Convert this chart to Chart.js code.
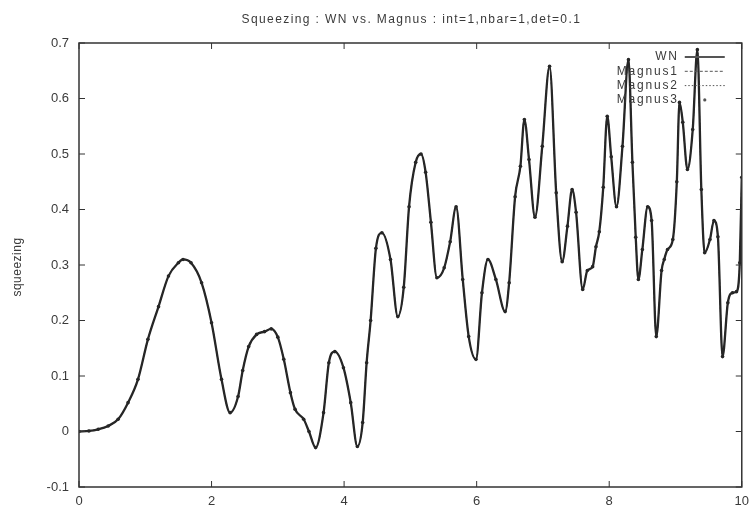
<!DOCTYPE html>
<html>
<head>
<meta charset="utf-8">
<script src="https://cdn.jsdelivr.net/npm/chart.js@4.4.1/dist/chart.umd.min.js"></script>
<style>
  html, body { margin: 0; padding: 0; background: #fff; }
  canvas { display: block; }
</style>
</head>
<body>
<canvas id="squeezeChart" width="756" height="520"></canvas>
<script>
// time axis and squeezing values
const tValues = [
    0.00, 0.15, 0.29, 0.44, 0.59, 0.74, 0.89, 1.04, 1.20, 1.35,
    1.50, 1.57, 1.69, 1.85, 2.00, 2.15, 2.28, 2.40, 2.47, 2.56,
    2.68, 2.80, 2.90, 3.00, 3.09, 3.19, 3.26, 3.39, 3.47, 3.57,
    3.69, 3.77, 3.86, 3.99, 4.10, 4.20, 4.28, 4.34, 4.40, 4.48,
    4.57, 4.70, 4.81, 4.90, 4.98, 5.08, 5.16, 5.23, 5.31, 5.40,
    5.51, 5.60, 5.69, 5.79, 5.88, 5.99, 6.08, 6.17, 6.29, 6.43,
    6.49, 6.58, 6.66, 6.72, 6.79, 6.88, 6.99, 7.10, 7.20, 7.29,
    7.37, 7.44, 7.50, 7.60, 7.67, 7.75, 7.80, 7.85, 7.91, 7.97,
    8.03, 8.11, 8.20, 8.29, 8.35, 8.40, 8.44, 8.50, 8.58, 8.64,
    8.71, 8.79, 8.83, 8.88, 8.96, 9.02, 9.06, 9.11, 9.18, 9.26,
    9.33, 9.39, 9.44, 9.52, 9.58, 9.64, 9.71, 9.79, 9.86, 9.92,
    9.97, 10.00
];
const wnValues = [
    0.000, 0.001, 0.004, 0.010, 0.022, 0.052, 0.094, 0.166, 0.225, 0.280,
    0.304, 0.310, 0.304, 0.268, 0.196, 0.094, 0.034, 0.063, 0.110, 0.153,
    0.175, 0.180, 0.185, 0.170, 0.130, 0.070, 0.040, 0.022, 0.000, -0.029,
    0.034, 0.124, 0.144, 0.115, 0.052, -0.027, 0.016, 0.124, 0.200, 0.330,
    0.358, 0.310, 0.207, 0.260, 0.405, 0.485, 0.500, 0.467, 0.377, 0.277,
    0.295, 0.342, 0.405, 0.274, 0.171, 0.130, 0.250, 0.310, 0.274, 0.216,
    0.268, 0.423, 0.478, 0.562, 0.490, 0.386, 0.514, 0.658, 0.430, 0.306,
    0.370, 0.436, 0.395, 0.256, 0.290, 0.297, 0.333, 0.360, 0.440, 0.568,
    0.495, 0.405, 0.514, 0.670, 0.485, 0.350, 0.274, 0.328, 0.405, 0.380,
    0.171, 0.290, 0.310, 0.328, 0.346, 0.450, 0.593, 0.557, 0.472, 0.544,
    0.688, 0.436, 0.322, 0.346, 0.380, 0.351, 0.135, 0.232, 0.250, 0.252,
    0.304, 0.458
];
// the Magnus curves sit on top of WN in the picture
const magnus1Values = wnValues.slice();
const magnus2Values = wnValues.slice();
const magnus3Values = wnValues.slice();

const seriesNames = ["WN", "Magnus1", "Magnus2", "Magnus3"];
const xTicks = [0, 2, 4, 6, 8, 10];
const yTicks = [-0.1, 0, 0.1, 0.2, 0.3, 0.4, 0.5, 0.6, 0.7];
const chartTitle = "Squeezing : WN vs. Magnus : int=1,nbar=1,det=0.1";
const yTitle = "squeezing";

const FONT = "'Liberation Sans', Arial, sans-serif";
const INK = "#262626";
const TEXT = "#3a3a3a";

function toPoints(ys) {
    return tValues.map((t, i) => ({ x: t, y: ys[i] }));
}

// gnuplot look: box, inward ticks on all sides, title, y label, legend
const gnuplotFrame = {
    id: "gnuplotFrame",
    afterDatasetsDraw(chart) {
        const { ctx, chartArea: a, scales: { x, y } } = chart;
        ctx.save();

        ctx.strokeStyle = "#333";
        ctx.lineWidth = 1.5;
        ctx.strokeRect(a.left, a.top, a.width, a.height);

        ctx.lineWidth = 1;
        ctx.beginPath();
        xTicks.forEach(v => {
            const px = x.getPixelForValue(v);
            ctx.moveTo(px, a.bottom); ctx.lineTo(px, a.bottom - 6);
            ctx.moveTo(px, a.top); ctx.lineTo(px, a.top + 6);
        });
        yTicks.forEach(v => {
            const py = y.getPixelForValue(v);
            ctx.moveTo(a.left, py); ctx.lineTo(a.left + 6, py);
            ctx.moveTo(a.right, py); ctx.lineTo(a.right - 6, py);
        });
        ctx.stroke();

        // title
        ctx.fillStyle = TEXT;
        ctx.font = "12px " + FONT;
        ctx.letterSpacing = "1.4px";
        ctx.textAlign = "center";
        ctx.textBaseline = "middle";
        ctx.fillText(chartTitle, (a.left + a.right) / 2 + 1, 20);

        // y axis label
        ctx.letterSpacing = "0.5px";
        ctx.save();
        ctx.translate(18, (a.top + a.bottom) / 2 + 2);
        ctx.rotate(-Math.PI / 2);
        ctx.fillText(yTitle, 0, 0);
        ctx.restore();

        // legend, text right aligned, sample to the right
        const textRight = a.right - 63;
        const sx0 = a.right - 57, sx1 = a.right - 17;
        ctx.textAlign = "right";
        ctx.letterSpacing = "1.8px";
        seriesNames.forEach((name, i) => {
            const ly = a.top + 14 + i * 14.3;
            ctx.fillStyle = TEXT;
            ctx.fillText(name, textRight, ly);
            ctx.strokeStyle = "#555";
            ctx.setLineDash([]);
            if (i === 0) {
                ctx.lineWidth = 2;
                ctx.beginPath(); ctx.moveTo(sx0, ly); ctx.lineTo(sx1, ly); ctx.stroke();
            } else if (i === 1) {
                ctx.lineWidth = 1;
                ctx.setLineDash([3, 2]);
                ctx.beginPath(); ctx.moveTo(sx0, ly); ctx.lineTo(sx1, ly); ctx.stroke();
            } else if (i === 2) {
                ctx.lineWidth = 1;
                ctx.setLineDash([1.5, 2]);
                ctx.beginPath(); ctx.moveTo(sx0, ly); ctx.lineTo(sx1, ly); ctx.stroke();
            } else {
                ctx.fillStyle = "#555";
                ctx.beginPath(); ctx.arc((sx0 + sx1) / 2, ly, 1.6, 0, Math.PI * 2); ctx.fill();
            }
        });
        ctx.letterSpacing = "0px";

        ctx.restore();
    }
};

document.addEventListener("DOMContentLoaded", function() {
    const ctx = document.getElementById("squeezeChart").getContext("2d");

    new Chart(ctx, {
        type: "line",
        data: {
            datasets: [
                {
                    label: seriesNames[0],
                    data: toPoints(wnValues),
                    borderColor: INK,
                    borderWidth: 2.3,
                    pointRadius: 0,
                    cubicInterpolationMode: "monotone"
                },
                {
                    label: seriesNames[1],
                    data: toPoints(magnus1Values),
                    borderColor: INK,
                    borderWidth: 1,
                    borderDash: [4, 3],
                    pointRadius: 0,
                    cubicInterpolationMode: "monotone"
                },
                {
                    label: seriesNames[2],
                    data: toPoints(magnus2Values),
                    borderColor: INK,
                    borderWidth: 1,
                    borderDash: [1.5, 2],
                    pointRadius: 0,
                    cubicInterpolationMode: "monotone"
                },
                {
                    label: seriesNames[3],
                    data: toPoints(magnus3Values),
                    showLine: false,
                    pointRadius: 1.8,
                    pointBackgroundColor: INK,
                    pointBorderWidth: 0
                }
            ]
        },
        options: {
            responsive: false,
            animation: false,
            layout: { padding: { top: 43, right: 13, left: 0, bottom: 0 } },
            plugins: {
                legend: { display: false },
                title: { display: false },
                tooltip: { enabled: false }
            },
            scales: {
                x: {
                    type: "linear",
                    min: 0,
                    max: 10,
                    afterFit: s => { s.height = 33; },
                    afterBuildTicks: s => { s.ticks = xTicks.map(v => ({ value: v })); },
                    grid: { display: false, drawTicks: false },
                    border: { display: false },
                    ticks: { color: TEXT, font: { family: FONT, size: 13 }, padding: 7, maxRotation: 0 }
                },
                y: {
                    min: -0.1,
                    max: 0.7,
                    afterFit: s => { s.width = 79; },
                    afterBuildTicks: s => { s.ticks = yTicks.map(v => ({ value: v })); },
                    grid: { display: false, drawTicks: false },
                    border: { display: false },
                    ticks: {
                        color: TEXT,
                        font: { family: FONT, size: 13 },
                        padding: 10,
                        callback: v => String(Math.round(v * 10) / 10)
                    }
                }
            }
        },
        plugins: [gnuplotFrame]
    });
});
</script>
</body>
</html>
